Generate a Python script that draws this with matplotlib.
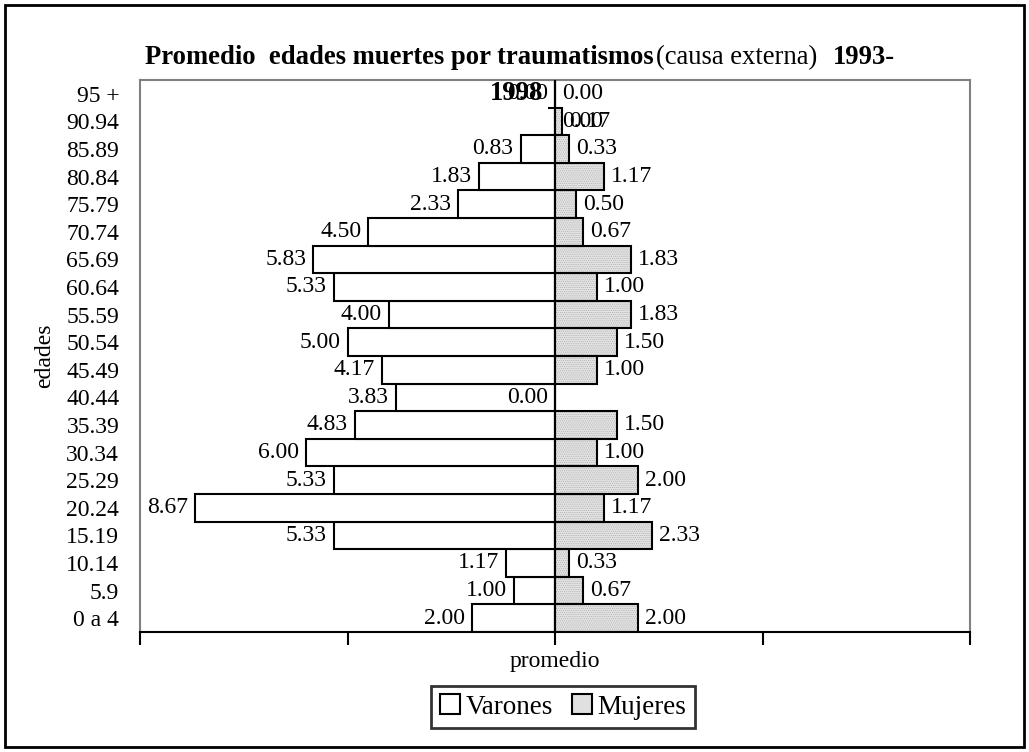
import matplotlib
matplotlib.use("Agg")
import matplotlib.pyplot as plt
from matplotlib.patches import Patch, Rectangle

plt.rcParams['font.family'] = ['Liberation Serif', 'DejaVu Serif']
plt.rcParams['hatch.linewidth'] = 0.5

# Age groups, bottom to top
edades = ["0 a 4", "5.9", "10.14", "15.19", "20.24", "25.29", "30.34", "35.39",
          "40.44", "45.49", "50.54", "55.59", "60.64", "65.69", "70.74", "75.79",
          "80.84", "85.89", "90.94", "95 +"]
varones = [2.00, 1.00, 1.17, 5.33, 8.67, 5.33, 6.00, 4.83, 3.83, 4.17,
           5.00, 4.00, 5.33, 5.83, 4.50, 2.33, 1.83, 0.83, 0.00, 0.00]
mujeres = [2.00, 0.67, 0.33, 2.33, 1.17, 2.00, 1.00, 1.50, 0.00, 1.00,
           1.50, 1.83, 1.00, 1.83, 0.67, 0.50, 1.17, 0.33, 0.17, 0.00]
# side of the value label for zero-valued bars (as placed in the original)
lado_cero_varones = {"90.94": 1, "95 +": -1}
lado_cero_mujeres = {"40.44": -1, "95 +": 1}

FS = 17
FT = 19.2
W, H = 1029, 752

fig = plt.figure(figsize=(W / 100, H / 100), dpi=100)
ax = fig.add_axes([140 / W, 1 - 632 / H, 830 / W, 552 / H])

y = list(range(len(edades)))
neg = [-v for v in varones]

# y axis tick marks at x=0 (category boundaries), mostly hidden behind bars
ax.hlines([i - 0.5 for i in range(len(edades) + 1)], -0.17, 0, color='black',
          lw=1.5, zorder=1)

ax.barh(y, neg, height=1.0, color='white', edgecolor='black', lw=1.5, zorder=2)
ax.barh(y, mujeres, height=1.0, color='#e4e4e4', edgecolor='#b0b0b0', hatch='........',
        lw=0, zorder=2)
ax.barh(y, mujeres, height=1.0, fill=False, edgecolor='black', lw=1.5, zorder=3)
ax.axvline(0, color='black', lw=1.5, zorder=4)

for i, (cat, v, m) in enumerate(zip(edades, varones, mujeres)):
    s = lado_cero_varones.get(cat, -1) if v == 0 else -1
    ax.annotate(f"{v:.2f}", xy=(-v, i), xytext=(5 * s, 0), textcoords='offset points',
                ha='left' if s > 0 else 'right', va='center', fontsize=FS)
    s = lado_cero_mujeres.get(cat, 1) if m == 0 else 1
    ax.annotate(f"{m:.2f}", xy=(m, i), xytext=(5 * s, 0), textcoords='offset points',
                ha='left' if s > 0 else 'right', va='center', fontsize=FS)

ax.set_xlim(-10, 10)
ax.set_ylim(-0.5, len(edades) - 0.5)
ax.set_xticks([-10, -5, 0, 5, 10])
ax.set_xticklabels([])
ax.tick_params(axis='x', direction='out', length=9, width=1.5, color='black')
ax.set_yticks(y)
ax.set_yticklabels(edades, fontsize=FS)
ax.tick_params(axis='y', length=0, pad=15)

for side in ['top', 'left', 'right']:
    ax.spines[side].set_color('#808080')
    ax.spines[side].set_linewidth(1.5)
ax.spines['bottom'].set_color('black')
ax.spines['bottom'].set_linewidth(1.5)

ax.set_xlabel("promedio", fontsize=FS, labelpad=1)
ax.set_ylabel("edades", fontsize=FS, labelpad=8)

# title in pieces: bold / normal / bold, wrapped year on second line
t1 = fig.text(145 / W, 1 - 64 / H, "Promedio  edades muertes por traumatismos",
              fontsize=FT, fontweight='bold', va='baseline')
a2 = ax.annotate("(causa externa)", xy=(1, 0), xycoords=t1, xytext=(2, 0),
                 textcoords='offset points', fontsize=FT, va='bottom', ha='left')
ax.annotate("1993-", xy=(1, 0), xycoords=a2, xytext=(11, 0), textcoords='offset points',
            fontsize=FT, fontweight='bold', va='bottom', ha='left')
fig.text(517 / W, 1 - 100 / H, "1998", fontsize=FT, fontweight='bold',
         va='baseline', ha='center')

handles = [Patch(facecolor='white', edgecolor='black', lw=1.5, label='Varones'),
           Patch(facecolor='#e0e0e0', edgecolor='black', lw=1.5, label='Mujeres')]
leg = fig.legend(handles=handles, loc='center', bbox_to_anchor=(563 / W, 1 - 707 / H),
                 ncol=2, fontsize=19.5, frameon=True, fancybox=False, handlelength=0.75,
                 handleheight=0.75, handletextpad=0.2, columnspacing=0.7,
                 borderpad=0.32, borderaxespad=0)
leg.get_frame().set_edgecolor('black')
leg.get_frame().set_linewidth(2)

fig.patches.append(Rectangle((5 / W, 5 / H), 1 - 10 / W, 1 - 10 / H, transform=fig.transFigure,
                             fill=False, edgecolor='black', lw=2))

fig.savefig("out.png", dpi=100)
